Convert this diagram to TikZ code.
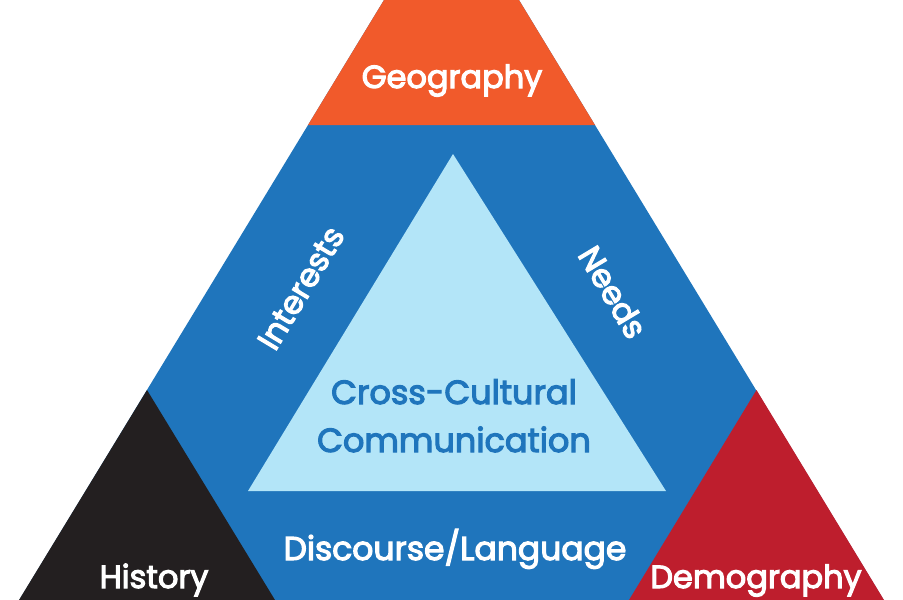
\documentclass[tikz,border=0pt]{standalone}
\usepackage{fontspec}
\setmainfont{Poppins}
\definecolor{geoorange}{HTML}{F15A2B}
\definecolor{midblue}{HTML}{1F75BC}
\definecolor{lightblue}{HTML}{B3E5F8}
\definecolor{histblack}{HTML}{231F20}
\definecolor{demored}{HTML}{BE1E2D}
\newcommand{\emb}[1]{\special{pdf:literal direct 2 Tr 1.1 w}#1\special{pdf:literal direct 0 Tr}}
\tikzset{
  whitelabel/.style={text=white, inner sep=0pt, font=\fontsize{32}{40}\selectfont},
  bluelabel/.style={text=midblue, inner sep=0pt, font=\fontsize{33.5}{48}\selectfont, align=center},
}
\begin{document}
\begin{tikzpicture}[x=1pt,y=-1pt]
\useasboundingbox (0,0) rectangle (903,600);
\begin{scope}
\clip (0,0) rectangle (903,600);
% big triangle (blue)
\fill[midblue] (451.5,-111) -- (19.3,600) -- (883.7,600) -- cycle;
% orange top
\fill[geoorange] (451.5,-111) -- (308,125) -- (595,125) -- cycle;
% corner triangles
\fill[histblack] (147,390) -- (19,600) -- (275,600) -- cycle;
\fill[demored] (756.5,390) -- (629,600) -- (884,600) -- cycle;
% inner triangle
\fill[lightblue] (453,154) -- (248,491) -- (666,491) -- cycle;
\end{scope}
\node[whitelabel, anchor=base] (geo) at (452,88) {\emb{Geography}};
\node[whitelabel, anchor=base] (hist) at (154,588) {\emb{History}};
\node[whitelabel, anchor=base] (demo) at (756,588) {\emb{Demography}};
\node[whitelabel, anchor=base, font=\fontsize{33}{40}\selectfont] (disc) at (455,560) {\emb{Discourse/Language}};
\node[whitelabel, rotate=59] (int) at (301,288) {\emb{Interests}};
\node[whitelabel, rotate=-59] (needs) at (613,292) {\emb{Needs}};
\node[bluelabel, anchor=base] (ccc1) at (454,404) {\emb{Cross-Cultural}};
\node[bluelabel, anchor=base] (ccc2) at (454,452) {\emb{Communication}};
\end{tikzpicture}
\end{document}
